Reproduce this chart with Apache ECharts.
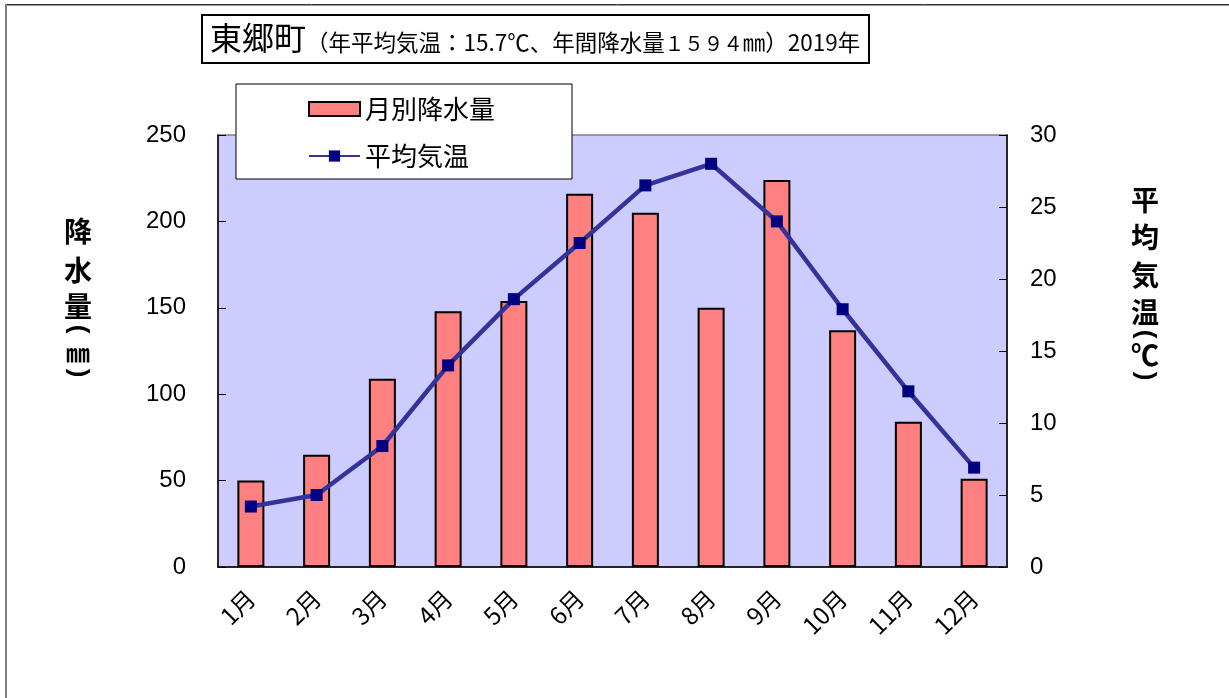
<!DOCTYPE html>
<html><head><meta charset="utf-8">
<script src="https://cdn.jsdelivr.net/npm/echarts@6/dist/echarts.min.js"></script>
<style>html,body{margin:0;padding:0;background:#fff}#c{width:1229px;height:698px}</style>
</head><body><div id="c"></div>
<script>
const months = ['1月','2月','3月','4月','5月','6月','7月','8月','9月','10月','11月','12月'];
const precipitation = [50, 65, 109, 148, 154, 216, 205, 150, 224, 137, 84, 51];
const temperature = [4.2, 5.0, 8.4, 14.0, 18.6, 22.5, 26.5, 28.0, 24.0, 17.9, 12.2, 6.9];
const precipAxis = { min: 0, max: 250, interval: 50 };
const tempAxis = { min: 0, max: 30, interval: 5 };
const seriesNames = ['月別降水量', '平均気温'];
const titleMain = '東郷町';
const titleSub1 = '（年平均気温：15.7℃、年間降水量';
const titleNum = '１５９４';
const titleSub2 = '㎜）2019年';
const leftNameChars = ['降','水','量','(','㎜',')'];
const rightNameChars = ['平','均','気','温','(','℃',')'];

const JP = '"Noto Sans CJK JP", sans-serif';
const NUM = '"Liberation Sans", "Noto Sans CJK JP", sans-serif';

const leftY = [231, 270, 306, 329, 353, 373];
const rightY = [200, 237, 275, 312, 334, 355, 376];

const isParen = ch => ch === '(' || ch === ')';

const graphics = [
  { type: 'line', shape: { x1: 6, y1: 4.5, x2: 1229, y2: 4.5 }, style: { stroke: '#333', lineWidth: 1 } },
  { type: 'line', shape: { x1: 6, y1: 5.5, x2: 1229, y2: 5.5 }, style: { stroke: '#999', lineWidth: 1 } },
  { type: 'line', shape: { x1: 6, y1: 4, x2: 6, y2: 698 }, style: { stroke: '#808080', lineWidth: 2 } }
];
function addName(chars, ys, x) {
  chars.forEach((ch, i) => {
    let font = 'bold 28px ' + JP;
    if (ch === '㎜') font = 'bold 24px ' + JP;
    if (isParen(ch)) font = 'bold 26px "Liberation Sans", sans-serif';
    graphics.push({
      type: 'text', x: x, y: ys[i],
      rotation: isParen(ch) ? -Math.PI / 2 : 0,
      style: { text: ch, font: font, fill: '#000', align: 'center', verticalAlign: 'middle' }
    });
  });
}
addName(leftNameChars, leftY, 78);
addName(rightNameChars, rightY, 1145);

const chart = echarts.init(document.getElementById('c'));
chart.setOption({
  animation: false,
  backgroundColor: '#fff',
  title: {
    text: '{a|' + titleMain + '}{b|' + titleSub1 + '}{c|' + titleNum + '}{b|' + titleSub2 + '}',
    left: 202, top: 13,
    padding: [7, 9, 7, 8],
    borderColor: '#000', borderWidth: 2,
    textStyle: {
      fontWeight: 'normal',
      rich: {
        a: { fontSize: 32, fontFamily: JP, color: '#000', fontWeight: 'normal', lineHeight: 36 },
        b: { fontSize: 22.5, fontFamily: JP, color: '#000', fontWeight: 'normal', lineHeight: 36, verticalAlign: 'bottom', padding: [0,0,2,0] },
        c: { fontSize: 19.5, fontFamily: JP, color: '#000', fontWeight: 'normal', lineHeight: 36, verticalAlign: 'bottom', padding: [0,0,3,0] }
      }
    }
  },
  legend: {
    orient: 'vertical',
    left: 236, top: 84,
    padding: [12, 77, 10, 72],
    itemGap: 21,
    itemWidth: 51, itemHeight: 14,
    itemTextGap: 6,
    backgroundColor: '#fff',
    borderColor: '#000', borderWidth: 1,
    textStyle: { fontSize: 26, fontFamily: JP, color: '#000' },
    data: [{ name: seriesNames[0], icon: 'rect' }, { name: seriesNames[1] }]
  },
  grid: {
    left: 218, right: 222, top: 135, bottom: 131,
    show: true, backgroundColor: '#CCCCFF', borderColor: '#808080', borderWidth: 1.5
  },
  xAxis: {
    type: 'category', data: months,
    axisLine: { lineStyle: { color: '#000', width: 1.5 } },
    axisTick: { inside: true, length: 7, lineStyle: { color: '#000' } },
    axisLabel: { rotate: 45, margin: 27, fontSize: 24, fontFamily: JP, color: '#000', interval: 0 }
  },
  yAxis: [
    {
      type: 'value', min: precipAxis.min, max: precipAxis.max, interval: precipAxis.interval,
      splitLine: { show: false },
      axisLine: { show: true, lineStyle: { color: '#000', width: 1.5 } },
      axisTick: { show: true, inside: true, length: 8, lineStyle: { color: '#000' } },
      axisLabel: { margin: 32, fontSize: 24, fontFamily: NUM, color: '#000' }
    },
    {
      type: 'value', min: tempAxis.min, max: tempAxis.max, interval: tempAxis.interval,
      position: 'right',
      splitLine: { show: false },
      axisLine: { show: true, lineStyle: { color: '#000', width: 1.5 } },
      axisTick: { show: true, inside: true, length: 8, lineStyle: { color: '#000' } },
      axisLabel: { margin: 23, fontSize: 24, fontFamily: NUM, color: '#000' }
    }
  ],
  series: [
    {
      name: seriesNames[0], type: 'bar', data: precipitation, yAxisIndex: 0,
      barWidth: 27,
      itemStyle: { color: '#FF8080', borderColor: '#000', borderWidth: 2 }
    },
    {
      name: seriesNames[1], type: 'line', data: temperature, yAxisIndex: 1,
      symbol: 'rect', symbolSize: 12,
      lineStyle: { color: '#333399', width: 4.5 },
      itemStyle: { color: '#000080' }
    }
  ],
  graphic: graphics
});
</script></body></html>
